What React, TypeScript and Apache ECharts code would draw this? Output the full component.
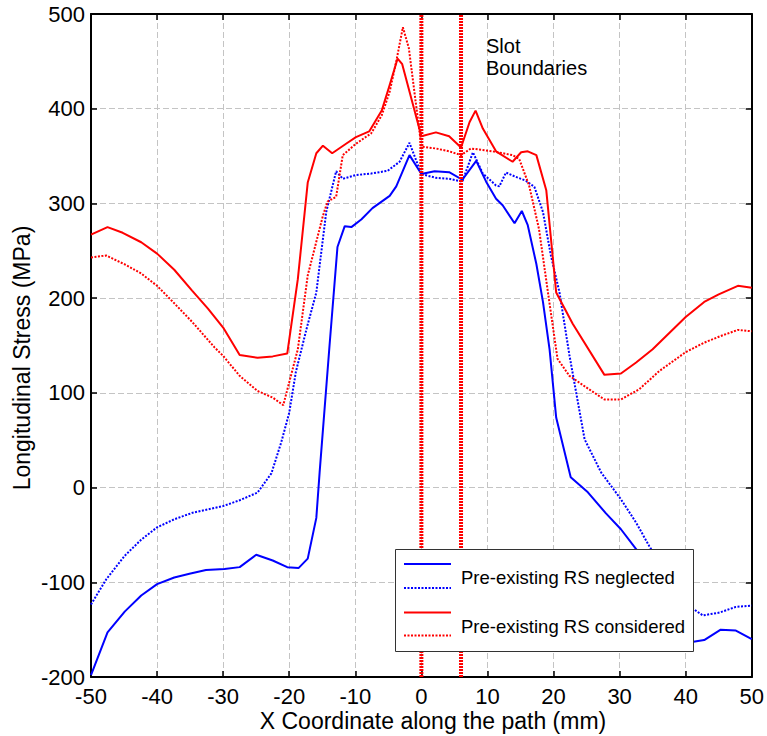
import React, { useEffect, useRef } from "react";
import * as echarts from "echarts";

const FONT = "'Liberation Sans', Arial, Helvetica, sans-serif";

const xTicks = { min: -50, max: 50, interval: 10 };
const yTicks = { min: -200, max: 500, interval: 100 };

const slotBoundaries = [0, 6];

const neglectedSolidX = [-50, -47.5, -44.9, -42.4, -40, -37.4, -35.1, -32.6, -29.8, -27.5, -25, -22.5, -20.3, -18.6, -17.2, -15.9, -15.4, -13.9, -12.7, -11.6, -10.6, -9.1, -7.4, -4.8, -3.8, -1.8, 0, 2, 4.2, 6.2, 8.3, 9.8, 11.3, 12.3, 14.1, 15.2, 16.1, 17.4, 18.4, 19.4, 20.4, 22.6, 25.2, 27.9, 30.2, 32.5, 35, 37.5, 40, 42.8, 45.3, 47.6, 50];
const neglectedSolidY = [-198, -153, -131, -114, -102, -95, -91, -87, -86, -84, -71, -77, -84, -85, -75, -32, 16, 150, 254, 276, 275, 283, 295, 308, 318, 351, 331, 334, 333, 325, 345, 323, 305, 298, 279, 292, 277, 236, 196, 146, 74, 11, -5, -27, -44, -65, -90, -125, -164, -161, -150, -151, -160];

const neglectedDottedX = [-50, -47.7, -44.9, -42.4, -40, -37.4, -34.6, -32.3, -30, -27.5, -24.8, -22.7, -21.2, -20, -19, -17.4, -15.9, -14.4, -12.9, -11.9, -9.9, -7.6, -5.1, -3.3, -1.8, 0, 2.2, 4.2, 6.2, 7.8, 9.3, 11.3, 11.8, 12.8, 14.3, 15.8, 17.1, 18.4, 19.6, 20.9, 22.4, 24.7, 27.2, 30.2, 32.5, 34.5, 37.5, 40.5, 42.6, 45.1, 47.6, 50];
const neglectedDottedY = [-123.5, -97, -72, -55, -42, -33.5, -26.5, -23, -19.5, -13.4, -5.3, 15, 48, 79, 122, 167, 206, 291, 334, 326, 330, 331.5, 334.5, 344, 364, 331, 327, 326, 323, 354, 331.5, 319, 318, 332.6, 328, 324, 317.5, 291, 245, 206, 140, 51, 16, -12.4, -37, -62, -95, -125, -135, -132, -126, -124.6];

const consideredSolidX = [-50, -47.5, -45.2, -42.4, -40, -37.4, -34.7, -32.3, -30, -27.5, -24.8, -22.5, -20.3, -18.7, -17.2, -15.9, -14.9, -13.5, -11.4, -9.9, -7.9, -6, -4.8, -3.6, -2.9, 0, 2.2, 4.2, 6, 7.3, 8.2, 9.3, 11.3, 13.8, 15.1, 16.1, 17.4, 18.9, 20.4, 22.9, 27.7, 30.2, 32.5, 35, 40, 42.8, 45, 47.9, 50];
const consideredSolidY = [267, 275, 269, 259, 247, 230, 208, 189, 169, 140, 137, 138.5, 141.5, 220, 322, 353, 361, 353, 363, 370, 376, 398, 425, 453, 447, 371, 375, 371, 359, 386, 398, 379, 355, 344, 354, 355, 351, 314, 206, 173, 119, 120.5, 132, 146, 180, 196, 204, 213, 211];

const consideredDottedX = [-50, -47.7, -44.7, -42.4, -40, -37.6, -34.7, -31.3, -30, -27.5, -24.8, -22.5, -20.9, -18.7, -17.2, -14.9, -14.2, -12.9, -11.9, -9.9, -7.6, -6, -4.8, -3.8, -2.8, -1.9, 0, 2.2, 4.2, 6, 7.5, 10.8, 13.8, 14.8, 16.3, 17.8, 19.3, 20.6, 22.4, 24.9, 27.7, 30.2, 33, 36, 40, 42.8, 45.3, 47.9, 50];
const consideredDottedY = [243, 245, 235, 226, 213, 196, 175, 148, 139, 118, 102, 95, 87, 146, 224, 287, 302, 307, 351, 363, 374, 393, 418, 450, 486, 464, 360, 358, 355, 351, 358, 355, 351, 347, 319, 273, 199, 136, 118, 106, 93, 93, 104, 123, 143, 153, 160, 166.5, 165];

const legendLabels = ["Pre-existing RS neglected", "Pre-existing RS considered"];
const slotLabel = "Slot\nBoundaries";
const xTitle = "X Coordinate along the path (mm)";
const yTitle = "Longitudinal Stress (MPa)";

const BLUE = "#0000ff";
const RED = "#ff0000";
const DOT = [2, 1.5];

const zip = (xs: number[], ys: number[]) => xs.map((x, i) => [x, ys[i]]);

export default function App() {
  const ref = useRef<HTMLDivElement>(null);
  useEffect(() => {
    if (!ref.current) return;
    const chart = echarts.init(ref.current, null, { renderer: "svg" });

    const axisCommon = {
      type: "value" as const,
      axisLine: { show: true, onZero: false, lineStyle: { color: "#000", width: 2 } },
      axisTick: { show: true, inside: true, length: 6, lineStyle: { color: "#000", width: 1.5 } },
    };
    const splitLine = { show: true, lineStyle: { color: "#c4c4c4", width: 1, type: [6, 3] } };
    const label = { fontSize: 22, color: "#000", fontFamily: FONT, showMinLabel: true, showMaxLabel: true };

    const lineSeries = (name: string, data: number[][], color: string, dotted: boolean) => ({
      name,
      type: "line",
      data,
      showSymbol: false,
      symbol: "none",
      smooth: false,
      lineStyle: { color, width: 2, type: dotted ? DOT : "solid" },
      z: 3,
    });

    const slotSeries = slotBoundaries.map((x, i) => ({
      name: "slot" + i,
      type: "line",
      data: [[x, yTicks.min], [x, yTicks.max]],
      showSymbol: false,
      symbol: "none",
      lineStyle: { color: RED, width: 4, type: [2, 1] },
      z: 4,
    }));

    const legendX0 = 395, legendY0 = 549, legendW = 298, legendH = 102;
    const sampleX1 = 404, sampleX2 = 451;
    const sampleYs = [564, 588, 612.5, 635.5];
    const sampleStyles = [
      { stroke: BLUE, lineDash: null },
      { stroke: BLUE, lineDash: DOT },
      { stroke: RED, lineDash: null },
      { stroke: RED, lineDash: DOT },
    ];

    chart.setOption({
      animation: false,
      backgroundColor: "#fff",
      grid: { left: 91, top: 14, width: 663, height: 663, containLabel: false },
      xAxis: [
        { ...axisCommon, position: "bottom", min: xTicks.min, max: xTicks.max, interval: xTicks.interval, axisLabel: { ...label, margin: 8 }, splitLine },
        { ...axisCommon, position: "top", min: xTicks.min, max: xTicks.max, interval: xTicks.interval, axisLabel: { show: false }, splitLine: { show: false } },
      ],
      yAxis: [
        { ...axisCommon, position: "left", min: yTicks.min, max: yTicks.max, interval: yTicks.interval, axisLabel: { ...label, margin: 6 }, splitLine },
        { ...axisCommon, position: "right", min: yTicks.min, max: yTicks.max, interval: yTicks.interval, axisLabel: { show: false }, splitLine: { show: false } },
      ],
      series: [
        lineSeries(legendLabels[0] + " a", zip(neglectedSolidX, neglectedSolidY), BLUE, false),
        lineSeries(legendLabels[0] + " b", zip(neglectedDottedX, neglectedDottedY), BLUE, true),
        lineSeries(legendLabels[1] + " a", zip(consideredSolidX, consideredSolidY), RED, false),
        lineSeries(legendLabels[1] + " b", zip(consideredDottedX, consideredDottedY), RED, true),
        ...slotSeries,
      ],
      graphic: {
        zlevel: 0,
        z: 100,
        elements: [
          {
            type: "text",
            x: 433,
            y: 721,
            z: 100,
            style: { text: xTitle, fontSize: 23, fontFamily: FONT, fill: "#000", align: "center", verticalAlign: "middle" },
          },
          {
            type: "text",
            x: 22,
            y: 358,
            z: 100,
            rotation: Math.PI / 2,
            style: { text: yTitle, fontSize: 23, fontFamily: FONT, fill: "#000", align: "center", verticalAlign: "middle" },
          },
          {
            type: "text",
            x: 486,
            y: 35,
            z: 100,
            style: { text: slotLabel, fontSize: 20, lineHeight: 22, fontFamily: FONT, fill: "#000", align: "left", verticalAlign: "top" },
          },
          {
            type: "rect",
            z: 100,
            shape: { x: legendX0 + 0.5, y: legendY0 + 0.5, width: legendW, height: legendH },
            style: { fill: "#fff", stroke: "#333", lineWidth: 1 },
          },
          ...sampleYs.map((y, i) => ({
            type: "line",
            z: 101,
            shape: { x1: sampleX1, y1: y, x2: sampleX2, y2: y },
            style: { stroke: sampleStyles[i].stroke, lineWidth: 2, lineDash: sampleStyles[i].lineDash },
          })),
          ...legendLabels.map((t, i) => ({
            type: "text",
            z: 101,
            x: 461,
            y: i === 0 ? 577 : 626,
            style: { text: t, fontSize: 18.5, fontFamily: FONT, fill: "#000", align: "left", verticalAlign: "middle" },
          })),
        ],
      },
    });
    return () => chart.dispose();
  }, []);
  return <div ref={ref} style={{ position: "absolute", left: 0, top: 0, width: 767, height: 736 }} />;
}
